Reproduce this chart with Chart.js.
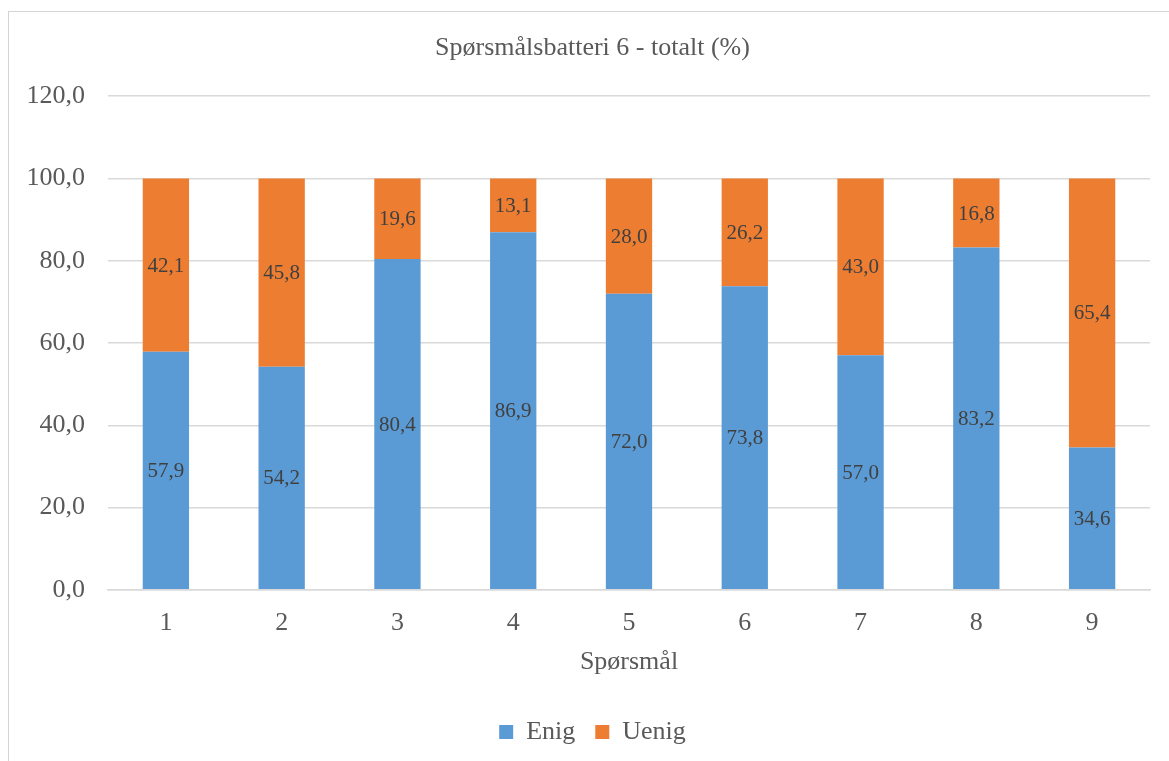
<!DOCTYPE html>
<html>
<head>
<meta charset="utf-8">
<script src="https://cdn.jsdelivr.net/npm/chart.js@4.4.1/dist/chart.umd.min.js"></script>
<style>
  html, body { margin: 0; padding: 0; background: #fff; overflow: hidden; }
  .frame {
    position: absolute; left: 8px; top: 11px;
    width: 1180px; height: 760px;
    border-left: 1px solid #d4d4d4; border-top: 1px solid #d4d4d4;
  }
  .frame canvas { display: block; }
</style>
</head>
<body>
<div class="frame">
  <canvas id="chartCanvas" width="1167" height="749"></canvas>
</div>
<script>
const questions = ['1', '2', '3', '4', '5', '6', '7', '8', '9'];
const enig = [57.9, 54.2, 80.4, 86.9, 72.0, 73.8, 57.0, 83.2, 34.6];
const uenig = [42.1, 45.8, 19.6, 13.1, 28.0, 26.2, 43.0, 16.8, 65.4];
const yTicks = [0, 20, 40, 60, 80, 100, 120];

const FONT = "'Liberation Serif', 'Times New Roman', serif";
const fmt = v => v.toFixed(1).replace('.', ',');

// writes the value of each segment in its middle
const segmentLabels = {
    id: 'segmentLabels',
    afterDatasetsDraw(chart) {
        const ctx = chart.ctx;
        ctx.save();
        ctx.font = '21px ' + FONT;
        ctx.fillStyle = '#404040';
        ctx.textAlign = 'center';
        ctx.textBaseline = 'middle';
        chart.data.datasets.forEach((ds, i) => {
            chart.getDatasetMeta(i).data.forEach((bar, j) => {
                const mid = (bar.y + bar.base) / 2;
                ctx.fillText(fmt(ds.data[j]), bar.x, mid + 1);
            });
        });
        ctx.restore();
    }
};

new Chart(document.getElementById('chartCanvas'), {
    type: 'bar',
    data: {
        labels: questions,
        datasets: [
            { label: 'Enig', data: enig, backgroundColor: '#5B9BD5' },
            { label: 'Uenig', data: uenig, backgroundColor: '#ED7D31' }
        ]
    },
    options: {
        responsive: false,
        animation: false,
        layout: { padding: { left: 0, right: 0, top: 0, bottom: 6 } },
        datasets: { bar: { categoryPercentage: 1, barPercentage: 0.4 } },
        plugins: {
            title: {
                display: true,
                text: 'Spørsmålsbatteri 6 - totalt (%)',
                color: '#595959',
                font: { family: FONT, size: 26, weight: 'normal' },
                padding: { top: 21, bottom: 32 }
            },
            legend: {
                position: 'bottom',
                labels: {
                    color: '#595959',
                    font: { family: FONT, size: 26 },
                    boxWidth: 14, boxHeight: 14,
                    padding: 20
                }
            },
            tooltip: { enabled: false }
        },
        scales: {
            x: {
                stacked: true,
                grid: { display: false },
                border: { color: '#d9d9d9', width: 1.5 },
                ticks: { color: '#595959', font: { family: FONT, size: 26 }, padding: 10 },
                title: {
                    display: true, text: 'Spørsmål', color: '#595959',
                    font: { family: FONT, size: 26, lineHeight: 1 },
                    padding: { top: 0, bottom: 24 }
                }
            },
            y: {
                stacked: true,
                min: 0, max: 120,
                afterBuildTicks: axis => { axis.ticks = yTicks.map(v => ({ value: v })); },
                afterFit: axis => { axis.width = 99; },
                grid: { color: '#d9d9d9', lineWidth: 1.5, drawTicks: false },
                border: { display: false },
                ticks: {
                    color: '#595959',
                    font: { family: FONT, size: 26 },
                    padding: 23,
                    callback: v => fmt(v)
                }
            },
            // empty right-hand margin beside the plot
            gap: {
                axis: 'y',
                position: 'right',
                afterFit: axis => { axis.width = 26; },
                grid: { display: false },
                border: { display: false },
                ticks: { display: false }
            }
        }
    },
    plugins: [segmentLabels]
});
</script>
</body>
</html>
